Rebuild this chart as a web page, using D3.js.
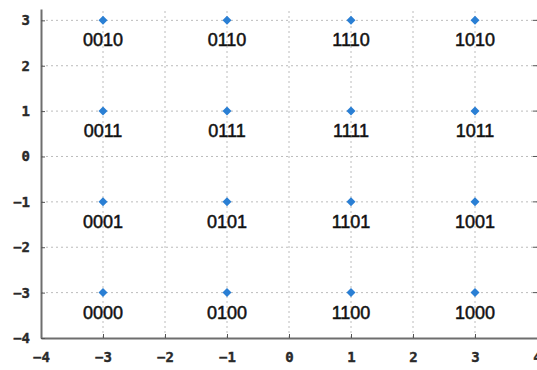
<!DOCTYPE html>
<html lang="en">

<head>
    <meta charset="utf-8" />
    <title>16-QAM</title>
    <script src="https://d3js.org/d3.v7.min.js"></script>
</head>
<style>
    body {
        margin: 0;
        background: #fff;
    }

    .grid line {
        stroke: #bcbcbc;
        stroke-width: 1px;
        stroke-dasharray: 2, 3;
    }

    .axis path {
        stroke: #6e6e6e;
        stroke-width: 2px;
    }

    .axis line {
        stroke: #555;
    }

    .axis text {
        font: bold 14px "DejaVu Sans Mono", monospace;
        fill: #2a2a2a;
        stroke: #2a2a2a;
        stroke-width: 0.4px;
    }

    .pt {
        fill: #2a7fd4;
    }

    .lbl {
        font: 18px "Liberation Sans", Arial, sans-serif;
        fill: #111;
        stroke: #111;
        stroke-width: 0.5px;
        text-anchor: middle;
    }
</style>

<body>
    <div id="chart"></div>
</body>

<script>
    var width = 537;
    var height = 370;

    // in-phase / quadrature levels and gray-code labels
    var iLevels = [-3, -1, 1, 3];
    var qLevels = [3, 1, -1, -3];
    var codes = [
        ["0010", "0110", "1110", "1010"],
        ["0011", "0111", "1111", "1011"],
        ["0001", "0101", "1101", "1001"],
        ["0000", "0100", "1100", "1000"]
    ];
    var xTicks = [-4, -3, -2, -1, 0, 1, 2, 3, 4];
    var yTicks = [-4, -3, -2, -1, 0, 1, 2, 3];

    var points = [];
    qLevels.forEach(function (q, r) {
        iLevels.forEach(function (i, c) {
            points.push({ i: i, q: q, code: codes[r][c] });
        });
    });

    var x = d3.scaleLinear().domain([-4, 4]).range([41, 537]);
    var y = d3.scaleLinear().domain([-4, 3.25]).range([338, 9]);

    var svg = d3.select("#chart").append("svg")
        .attr("width", width)
        .attr("height", height);

    // dotted grid
    var grid = svg.append("g").attr("class", "grid");
    grid.selectAll(".gx")
        .data(xTicks.filter(function (d) { return d > -4 && d < 4; }))
        .enter().append("line")
        .attr("x1", function (d) { return x(d); })
        .attr("x2", function (d) { return x(d); })
        .attr("y1", y(-4))
        .attr("y2", y(3.25));
    grid.selectAll(".gy")
        .data(yTicks.filter(function (d) { return d > -4; }))
        .enter().append("line")
        .attr("x1", x(-4))
        .attr("x2", x(4))
        .attr("y1", function (d) { return y(d); })
        .attr("y2", function (d) { return y(d); });

    var fmt = function (d) { return d < 0 ? "\u2212" + Math.abs(d) : String(d); };

    svg.append("g")
        .attr("class", "axis")
        .attr("transform", "translate(0," + y(-4) + ")")
        .call(d3.axisBottom(x).tickValues(xTicks).tickFormat(fmt).tickSizeInner(-4).tickSizeOuter(0).tickPadding(14));

    svg.append("g")
        .attr("class", "axis")
        .attr("transform", "translate(" + x(-4) + ",0)")
        .call(d3.axisLeft(y).tickValues(yTicks).tickFormat(fmt).tickSizeInner(-4).tickSizeOuter(0).tickPadding(11));

    // right-side ticks
    svg.append("g")
        .attr("class", "axis")
        .selectAll("line")
        .data(yTicks.filter(function (d) { return d > -4; }))
        .enter().append("line")
        .attr("x1", x(4) - 4)
        .attr("x2", x(4))
        .attr("y1", function (d) { return y(d); })
        .attr("y2", function (d) { return y(d); });

    var node = svg.selectAll(".node")
        .data(points)
        .enter().append("g")
        .attr("class", "node")
        .attr("transform", function (d) { return "translate(" + x(d.i) + "," + y(d.q) + ")"; });

    node.append("path")
        .attr("class", "pt")
        .attr("d", "M0,-4.5L4.5,0L0,4.5L-4.5,0Z");

    node.append("text")
        .attr("class", "lbl")
        .attr("y", 26)
        .text(function (d) { return d.code; });
</script>

</html>
